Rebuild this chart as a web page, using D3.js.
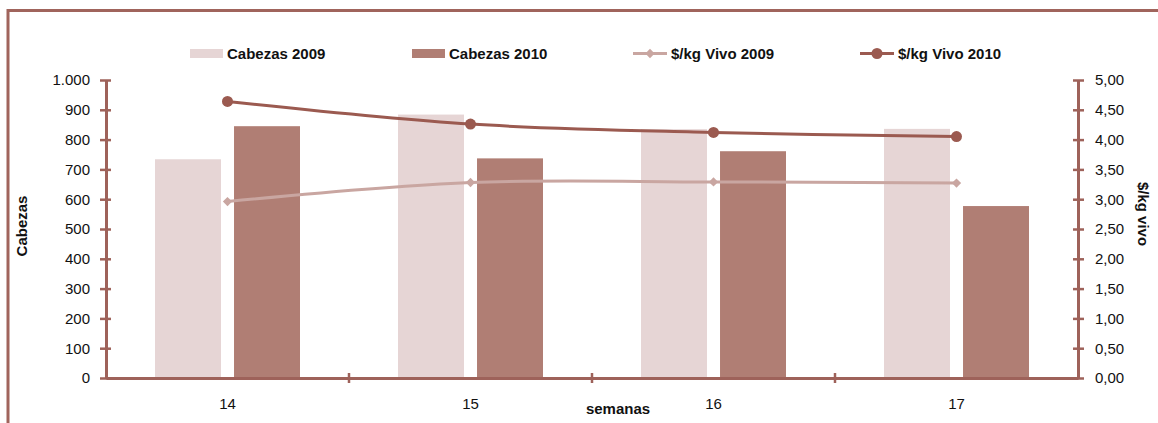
<!DOCTYPE html>
<html>
<head>
<meta charset="utf-8">
<script src="https://cdn.jsdelivr.net/npm/d3@7"></script>
<style>
  html, body { margin: 0; padding: 0; background: #fff; }
  svg { display: block; font-family: "Liberation Sans", Arial, sans-serif; }
</style>
</head>
<body>
<svg id="chart" width="1158" height="423"></svg>
<script>
// Weekly cattle entries (heads) and live price ($/kg), 2009 vs 2010
const semanas = ["14", "15", "16", "17"];
const cabezas2009 = [734, 884, 835, 836];
const cabezas2010 = [845, 737, 761, 577];
const precio2009 = [2.96, 3.28, 3.29, 3.27];
const precio2010 = [4.64, 4.26, 4.12, 4.05];
const ticksCabezas = [0, 100, 200, 300, 400, 500, 600, 700, 800, 900, 1000];
const ticksPrecio = [0, 0.5, 1, 1.5, 2, 2.5, 3, 3.5, 4, 4.5, 5];

const colors = {
  axis: "#9e625a",
  frame: "#a0645c",
  bar2009: "#e6d5d5",
  bar2010: "#b07e74",
  line2009: "#c9a6a1",
  line2010: "#9b5a50",
  text: "#111"
};

const loc = d3.formatLocale({ decimal: ",", thousands: ".", grouping: [3], currency: ["$", ""] });
const fmtCab = loc.format(",.0f");
const fmtPre = loc.format(",.2f");

const svg = d3.select("#chart");

// outer frame
svg.append("rect")
  .attr("x", 8).attr("y", 10.5).attr("width", 1300).attr("height", 600)
  .attr("fill", "none").attr("stroke", colors.frame).attr("stroke-width", 3);

const plotLeft = 106, plotRight = 1078, plotTop = 80, plotBottom = 378;

const x = d3.scaleBand().domain(semanas).range([plotLeft, plotRight]).padding(0);
const xs = d3.scaleBand().domain(["2009", "2010"]).range([-72.5, 72.5]).paddingInner(0.165);
const yL = d3.scaleLinear().domain([0, 1000]).range([plotBottom, plotTop]);
const yR = d3.scaleLinear().domain([0, 5]).range([plotBottom, plotTop]);

const plot = svg.append("g");

// bars
const groups = plot.selectAll("g.sem").data(semanas).join("g")
  .attr("class", "sem")
  .attr("transform", d => `translate(${x(d) + x.bandwidth() / 2},0)`);

groups.append("rect")
  .attr("x", xs("2009")).attr("width", xs.bandwidth())
  .attr("y", (d, i) => yL(cabezas2009[i]))
  .attr("height", (d, i) => yL(0) - yL(cabezas2009[i]))
  .attr("fill", colors.bar2009);

groups.append("rect")
  .attr("x", xs("2010")).attr("width", xs.bandwidth())
  .attr("y", (d, i) => yL(cabezas2010[i]))
  .attr("height", (d, i) => yL(0) - yL(cabezas2010[i]))
  .attr("fill", colors.bar2010);

// axes
function styleAxis(g) {
  g.select(".domain").attr("stroke", colors.axis).attr("stroke-width", 3);
  g.selectAll(".tick line").attr("stroke", colors.axis).attr("stroke-width", 2.5);
  g.selectAll(".tick text").attr("fill", colors.text).attr("font-size", 15)
    .attr("font-family", "Liberation Sans, Arial, sans-serif");
}

const axL = svg.append("g").attr("transform", `translate(${plotLeft},0)`)
  .call(d3.axisLeft(yL).tickValues(ticksCabezas).tickFormat(fmtCab).tickSizeInner(6).tickSizeOuter(0).tickPadding(10));
styleAxis(axL);
axL.selectAll(".tick line").attr("x1", 5);

const axR = svg.append("g").attr("transform", `translate(${plotRight},0)`)
  .call(d3.axisRight(yR).tickValues(ticksPrecio).tickFormat(fmtPre).tickSizeInner(6).tickSizeOuter(0).tickPadding(11));
styleAxis(axR);
axR.selectAll(".tick line").attr("x1", -5);

// category axis with boundary ticks
const axX = svg.append("g").attr("transform", `translate(0,${plotBottom})`)
  .call(d3.axisBottom(x).tickSize(0).tickPadding(20));
styleAxis(axX);
axX.selectAll(".tick text").attr("dy", "0.71em");
const bounds = semanas.slice(1).map(d => x(d));
axX.selectAll("line.bound").data(bounds).join("line")
  .attr("class", "bound")
  .attr("x1", d => d).attr("x2", d => d).attr("y1", -5).attr("y2", 5)
  .attr("stroke", colors.axis).attr("stroke-width", 2.5);

// price lines
const cx = d => x(d) + x.bandwidth() / 2;
const line = d3.line().curve(d3.curveCatmullRom.alpha(0.5));

const pts2009 = semanas.map((d, i) => [cx(d), yR(precio2009[i])]);
const pts2010 = semanas.map((d, i) => [cx(d), yR(precio2010[i])]);

plot.append("path").attr("d", line(pts2009)).attr("fill", "none")
  .attr("stroke", colors.line2009).attr("stroke-width", 3);
plot.append("path").attr("d", line(pts2010)).attr("fill", "none")
  .attr("stroke", colors.line2010).attr("stroke-width", 3);

const diamond = d3.symbol().type(d3.symbolDiamond2).size(55);
plot.selectAll("path.m09").data(pts2009).join("path")
  .attr("class", "m09").attr("d", diamond)
  .attr("transform", p => `translate(${p[0]},${p[1]})`)
  .attr("fill", colors.line2009);
plot.selectAll("circle.m10").data(pts2010).join("circle")
  .attr("class", "m10").attr("cx", p => p[0]).attr("cy", p => p[1]).attr("r", 5.5)
  .attr("fill", colors.line2010);

// axis titles
svg.append("text").attr("transform", "translate(27,226) rotate(-90)")
  .attr("text-anchor", "middle").attr("font-weight", "bold").attr("font-size", 15)
  .attr("fill", colors.text).text("Cabezas");
svg.append("text").attr("transform", "translate(1138,214) rotate(90)")
  .attr("text-anchor", "middle").attr("font-weight", "bold").attr("font-size", 15)
  .attr("fill", colors.text).text("$/kg vivo");
svg.append("text").attr("x", 618).attr("y", 414)
  .attr("text-anchor", "middle").attr("font-weight", "bold").attr("font-size", 15)
  .attr("fill", colors.text).text("semanas");

// legend
const legendItems = [
  { label: "Cabezas 2009", kind: "bar", color: colors.bar2009, x: 190 },
  { label: "Cabezas 2010", kind: "bar", color: colors.bar2010, x: 412 },
  { label: "$/kg Vivo 2009", kind: "diamond", color: colors.line2009, x: 633 },
  { label: "$/kg Vivo 2010", kind: "circle", color: colors.line2010, x: 860 }
];
const ly = 53.5;
const lg = svg.append("g").selectAll("g").data(legendItems).join("g")
  .attr("transform", d => `translate(${d.x},${ly})`);
lg.filter(d => d.kind === "bar").append("rect")
  .attr("x", 0).attr("y", -4.5).attr("width", 33).attr("height", 9).attr("fill", d => d.color);
lg.filter(d => d.kind !== "bar").append("line")
  .attr("x1", 0).attr("x2", 34).attr("stroke", d => d.color).attr("stroke-width", 3);
lg.filter(d => d.kind === "diamond").append("path")
  .attr("d", diamond).attr("transform", "translate(17,0)").attr("fill", d => d.color);
lg.filter(d => d.kind === "circle").append("circle")
  .attr("cx", 17).attr("r", 5.5).attr("fill", d => d.color);
lg.append("text")
  .attr("x", d => d.kind === "bar" ? 37 : 38).attr("y", 5.5)
  .attr("font-weight", "bold").attr("font-size", 15).attr("fill", colors.text)
  .text(d => d.label);
</script>
</body>
</html>
